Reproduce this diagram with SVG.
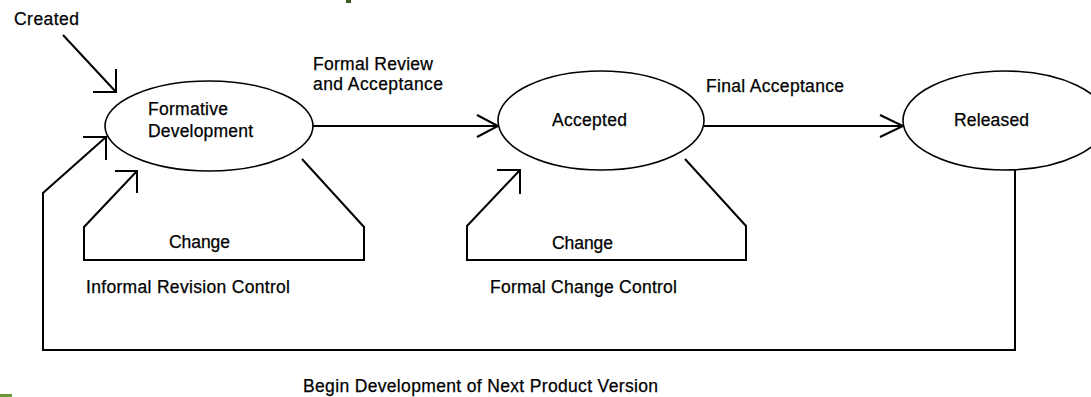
<svg xmlns="http://www.w3.org/2000/svg" width="1091" height="397" viewBox="0 0 1091 397">
<style>
  .node ellipse { fill: #ffffff; stroke: #000000; stroke-width: 1.6; }
  .lbl { font-family: "Liberation Sans", Arial, sans-serif; font-size: 17.5px; fill: #000000; stroke: #000000; stroke-width: 0.25; }
  .ln { fill: none; stroke: #000000; stroke-width: 2; stroke-linejoin: miter; stroke-linecap: butt; }
</style>
<rect x="0" y="0" width="1091" height="397" fill="#ffffff"/>
<rect x="346" y="0" width="5" height="3" fill="#3b5a22"/>
<rect x="0" y="394" width="12" height="3" fill="#6a9a3a"/>

<g id="connectors">
  <!-- Created -->
  <path class="ln" d="M63,35 L116,92"/>
  <path class="ln" d="M93,92 L116,92 L116,69"/>
  <!-- Formal Review and Acceptance -->
  <path class="ln" d="M313,126 L498,126"/>
  <path class="ln" d="M477,115 L498,126 L477,137"/>
  <!-- Final Acceptance -->
  <path class="ln" d="M704,126 L903,126"/>
  <path class="ln" d="M880,115 L903,126 L880,137"/>
  <!-- Informal revision loop -->
  <path class="ln" d="M302,159 L364,227 L364,260 L84,260 L84,227 L137,171"/>
  <path class="ln" d="M115,171 L137,171 L137,193"/>
  <!-- Formal change loop -->
  <path class="ln" d="M685,159 L746,226 L746,260 L467,260 L467,226 L520,170"/>
  <path class="ln" d="M497,170 L520,170 L520,194"/>
  <!-- Next version loop -->
  <path class="ln" d="M1015,170 L1015,350 L43,350 L43,193 L106,137"/>
  <path class="ln" d="M83,137 L106,137 L106,160"/>
</g>

<g id="labels">
  <text class="lbl" x="14" y="25" textLength="65" lengthAdjust="spacing">Created</text>
  <text class="lbl" x="313" y="70" textLength="120" lengthAdjust="spacing">Formal Review</text>
  <text class="lbl" x="313" y="90" textLength="130" lengthAdjust="spacing">and Acceptance</text>
  <text class="lbl" x="706" y="92" textLength="138" lengthAdjust="spacing">Final Acceptance</text>
  <text class="lbl" x="169" y="248" textLength="61" lengthAdjust="spacing">Change</text>
  <text class="lbl" x="86" y="293" textLength="204" lengthAdjust="spacing">Informal Revision Control</text>
  <text class="lbl" x="552" y="249" textLength="61" lengthAdjust="spacing">Change</text>
  <text class="lbl" x="490" y="293" textLength="187" lengthAdjust="spacing">Formal Change Control</text>
  <text class="lbl" x="303" y="392" textLength="355" lengthAdjust="spacing">Begin Development of Next Product Version</text>
</g>

<g id="node-formative" class="node">
  <ellipse cx="209" cy="126" rx="104" ry="45"/>
  <text class="lbl" x="148" y="115" textLength="80" lengthAdjust="spacing">Formative</text>
  <text class="lbl" x="148" y="137" textLength="105" lengthAdjust="spacing">Development</text>
</g>

<g id="node-accepted" class="node">
  <ellipse cx="601" cy="120.5" rx="103" ry="49.5"/>
  <text class="lbl" x="552" y="126" textLength="75" lengthAdjust="spacing">Accepted</text>
</g>

<g id="node-released" class="node">
  <ellipse cx="1005" cy="120.5" rx="102" ry="49.5"/>
  <text class="lbl" x="954" y="126" textLength="75" lengthAdjust="spacing">Released</text>
</g>
</svg>
